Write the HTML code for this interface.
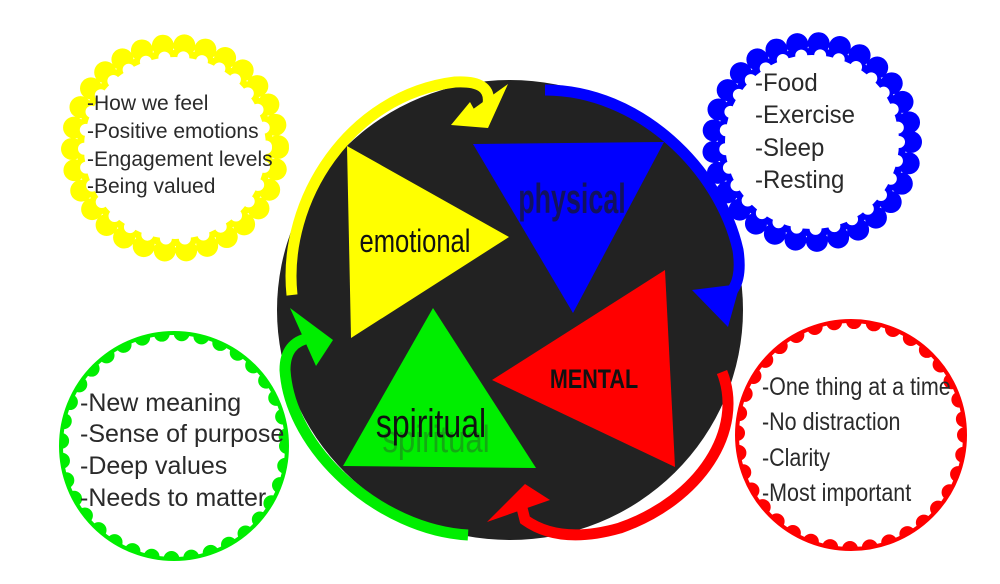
<!DOCTYPE html>
<html><head><meta charset="utf-8"><style>
html,body{margin:0;padding:0;background:#fff;}
svg{display:block;}
.t{font-family:"Liberation Sans",sans-serif;fill:#2a2a2a;}
</style></head><body>
<svg width="1000" height="584" viewBox="0 0 1000 584" xmlns="http://www.w3.org/2000/svg">
<defs>
<clipPath id="cg"><circle cx="174" cy="446" r="113"/></clipPath>
<clipPath id="cr"><circle cx="851" cy="435" r="114"/></clipPath>
</defs>
<rect width="1000" height="584" fill="#fff"/>

<!-- yellow scallop -->
<circle cx="175" cy="148" r="103" fill="none" stroke="#ffff00" stroke-width="22" stroke-linecap="round" stroke-dasharray="0 21.5"/>
<circle cx="175" cy="148" r="98" fill="#ffff00"/>
<circle cx="175" cy="148" r="91" fill="none" stroke="#fff" stroke-width="12" stroke-linecap="round" stroke-dasharray="0 19"/>
<circle cx="175" cy="148" r="91" fill="#fff"/>

<!-- blue scallop -->
<circle cx="812" cy="142" r="99" fill="none" stroke="#0000ff" stroke-width="22" stroke-linecap="round" stroke-dasharray="0 21.5"/>
<circle cx="812" cy="142" r="94" fill="#0000ff"/>
<circle cx="812" cy="142" r="87" fill="none" stroke="#fff" stroke-width="12" stroke-linecap="round" stroke-dasharray="0 19"/>
<circle cx="812" cy="142" r="87" fill="#fff"/>

<!-- green scallop -->
<circle cx="174" cy="446" r="113" fill="#fff" stroke="#00ee00" stroke-width="4"/>
<g clip-path="url(#cg)"><circle cx="174" cy="446" r="113" fill="none" stroke="#00ee00" stroke-width="16" stroke-linecap="round" stroke-dasharray="0 20"/></g>

<!-- red scallop -->
<circle cx="851" cy="435" r="114" fill="#fff" stroke="#ff0000" stroke-width="4"/>
<g clip-path="url(#cr)"><circle cx="851" cy="435" r="114" fill="none" stroke="#ff0000" stroke-width="16" stroke-linecap="round" stroke-dasharray="0 20"/></g>

<!-- black disc -->
<ellipse cx="510" cy="310" rx="233" ry="230" fill="#222"/>

<!-- triangles -->
<polygon points="347,146 509,237 351,338" fill="#ffff00"/>
<polygon points="473,144 664,142 573,313" fill="#0000ff"/>
<polygon points="492,380 665,270 675,467" fill="#ff0000"/>
<polygon points="433,308 343,466 536,468" fill="#00ee00"/>

<!-- arrows -->
<path d="M292,295 C282,200 350,95 455,82 Q492,80 488,104" fill="none" stroke="#ffff00" stroke-width="11"/>
<polygon points="451,125 508,84 488,128" fill="#ffff00"/>
<polygon points="451,125 470,102 480,120" fill="#ffff00"/>

<path d="M545,90 C640,90 720,170 738,250 Q744,290 720,300" fill="none" stroke="#0000ff" stroke-width="11"/>
<polygon points="728,327 692,290 740,284" fill="#0000ff"/>

<path d="M722,372 C745,430 700,500 620,528 Q560,545 525,520 L520,500" fill="none" stroke="#ff0000" stroke-width="11"/>
<polygon points="487,522 525,484 550,500" fill="#ff0000"/>

<path d="M468,535 C380,530 290,450 285,370 Q285,342 310,338" fill="none" stroke="#00ee00" stroke-width="11"/>
<polygon points="290,308 316,366 333,340" fill="#00ee00"/>

<!-- center labels -->
<text x="415" y="252" text-anchor="middle" font-family="Liberation Sans,sans-serif" font-size="32" fill="#111" transform="translate(415,0) scale(0.8,1) translate(-415,0)">emotional</text>
<text x="572" y="213" text-anchor="middle" font-family="Liberation Sans,sans-serif" font-size="42" font-weight="bold" fill="#12125e" transform="translate(572,0) scale(0.64,1) translate(-572,0)">physical</text>
<text x="594" y="388" text-anchor="middle" font-family="Liberation Sans,sans-serif" font-size="27" font-weight="bold" fill="#111" transform="translate(594,0) scale(0.8,1) translate(-594,0)">MENTAL</text>
<text x="436" y="452" text-anchor="middle" font-family="Liberation Sans,sans-serif" font-size="38" fill="#2a5a2a" opacity="0.45" transform="translate(436,0) scale(0.82,1) translate(-436,0)">spiritual</text>
<text x="431" y="437" text-anchor="middle" font-family="Liberation Sans,sans-serif" font-size="40" fill="#111" transform="translate(431,0) scale(0.8,1) translate(-431,0)">spiritual</text>

<!-- bullet texts -->
<g class="t" font-size="21">
<text x="87" y="110">-How we feel</text>
<text x="87" y="138">-Positive emotions</text>
<text x="87" y="166">-Engagement levels</text>
<text x="87" y="193">-Being valued</text>
</g>
<g class="t" font-size="25" transform="translate(755,0) scale(0.96,1) translate(-755,0)">
<text x="755" y="91">-Food</text>
<text x="755" y="123">-Exercise</text>
<text x="755" y="156">-Sleep</text>
<text x="755" y="188">-Resting</text>
</g>
<g class="t" font-size="25">
<text x="80" y="411">-New meaning</text>
<text x="80" y="442">-Sense of purpose</text>
<text x="80" y="474">-Deep values</text>
<text x="80" y="506">-Needs to matter</text>
</g>
<g class="t" font-size="25" transform="translate(762,0) scale(0.86,1) translate(-762,0)">
<text x="762" y="395">-One thing at a time</text>
<text x="762" y="430">-No distraction</text>
<text x="762" y="466">-Clarity</text>
<text x="762" y="501">-Most important</text>
</g>
</svg>
</body></html>
